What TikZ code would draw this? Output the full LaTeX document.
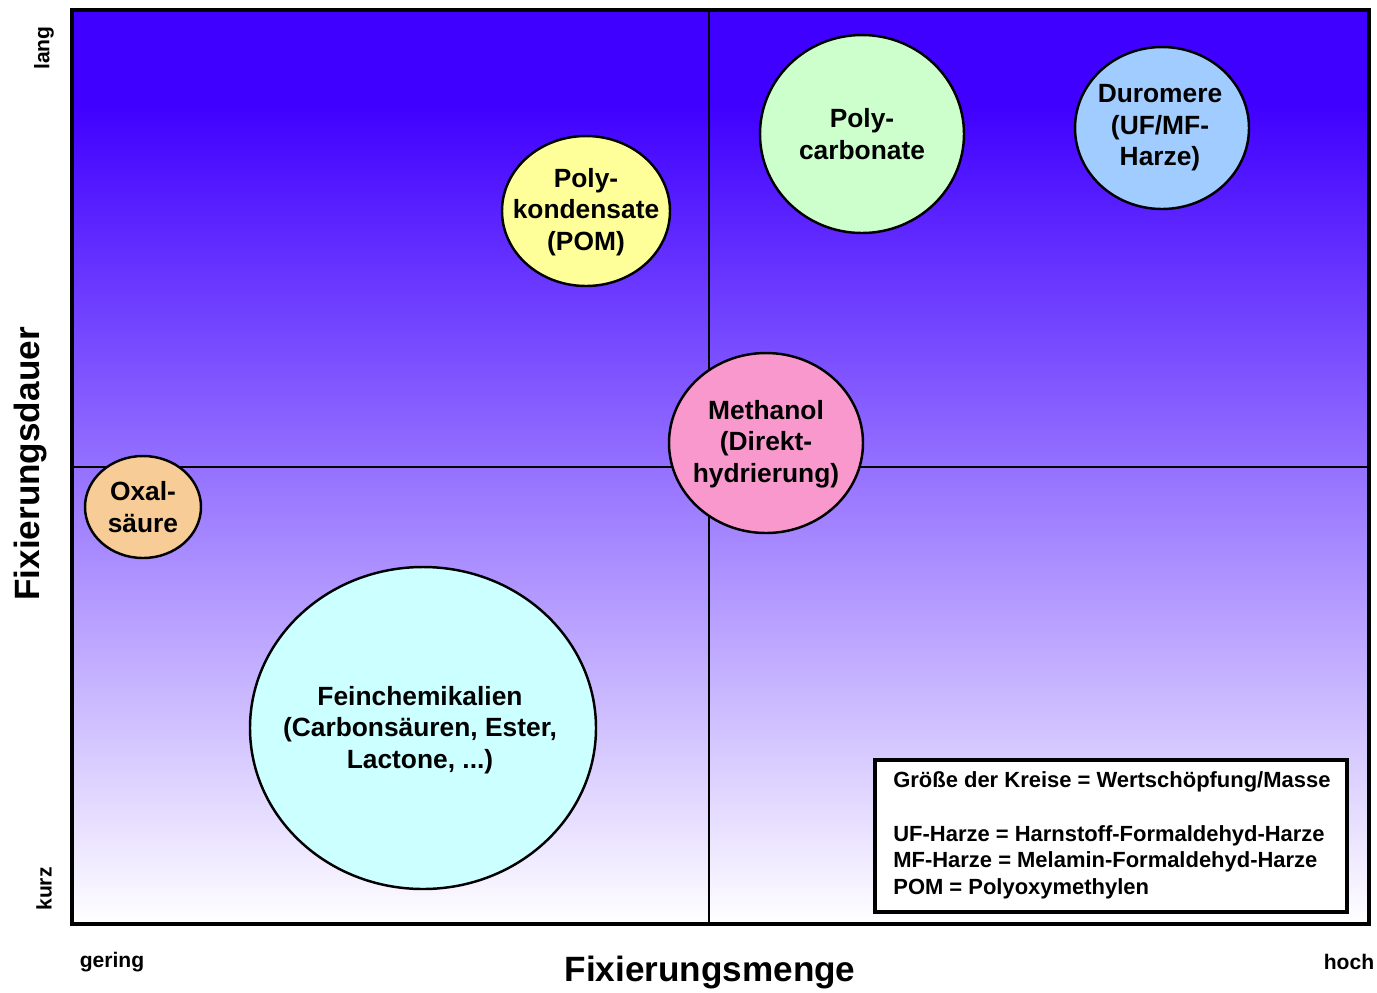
\documentclass[tikz,border=0pt]{standalone}
\usepackage{fontspec}
\setmainfont{Liberation Sans}
\usepackage{xcolor}
\usepackage{tikz}
\usetikzlibrary{shapes.geometric,positioning,calc}
\definecolor{topblue}{HTML}{4000FF}
\definecolor{midblue}{HTML}{B2ACFC}
\definecolor{oxalfill}{HTML}{F8CC96}
\definecolor{polyfill}{HTML}{FFFF99}
\definecolor{carbfill}{HTML}{CCFFCC}
\definecolor{durofill}{HTML}{A0CCFF}
\definecolor{methfill}{HTML}{F898CC}
\definecolor{feinfill}{HTML}{CCFFFF}
\tikzstyle{bubble} = [draw, line width=1.4pt]
\tikzstyle{bubbletext} = [inner sep=0pt, align=center, font=\fontsize{15}{18}\selectfont\bfseries]
\tikzstyle{axislabel} = [font=\fontsize{12}{14}\selectfont\bfseries]
\tikzstyle{axistitle} = [font=\fontsize{20}{24}\selectfont\bfseries]

\begin{document}
\begin{tikzpicture}[x=0.02cm, y=-0.02cm]
    \useasboundingbox (0,0) rectangle (1377,992);
    % background of the chart
    \fill[topblue] (72,10) rectangle (1369,105);
    \shade[top color=topblue, middle color=midblue, bottom color=white] (72,105) rectangle (1369,924);
    % quadrants
    \coordinate (top) at (709,10);
    \coordinate (bottom) at (709,924);
    \coordinate (left) at (72,467);
    \coordinate (right) at (1369,467);
    \draw[line width=1.2pt] (top) -- (bottom);
    \draw[line width=1.2pt] (left) -- (right);
    \draw[line width=2.8pt] (72,10) rectangle (1369,924);
    % bubbles
    \path[bubble, fill=oxalfill] (143,507) ellipse [x radius=58, y radius=51];
    \node[bubbletext] (oxal) at (143,507) {Oxal-\\säure};
    \path[bubble, fill=polyfill] (586,211) ellipse [x radius=84, y radius=75];
    \node[bubbletext] (pom) at (586,212) {Poly-\\kondensate\\(POM)};
    \path[bubble, fill=carbfill] (862,134) ellipse [x radius=102, y radius=99];
    \node[bubbletext] (carb) at (862,134) {Poly-\\carbonate};
    \path[bubble, fill=durofill] (1162,128) ellipse [x radius=87, y radius=81];
    \node[bubbletext] (duro) at (1160,128) {Duromere\\(UF/MF-\\Harze)};
    \path[bubble, fill=methfill] (766,443) ellipse [x radius=97, y radius=90];
    \node[bubbletext] (meth) at (766,444) {Methanol\\(Direkt-\\hydrierung)};
    \path[bubble, fill=feinfill] (423,728) ellipse [x radius=173, y radius=161];
    \node[bubbletext] (fein) at (420,730) {Feinchemikalien\\(Carbonsäuren, Ester,\\Lactone, ...)};
    % legend
    \draw[line width=2.2pt, fill=white] (875,760) rectangle (1347,912);
    \node[anchor=north west, align=left, inner sep=0pt, font=\fontsize{12.5}{15.3}\selectfont\bfseries] (legendtext) at (893,771) {Größe der Kreise = Wertschöpfung/Masse\\[15.3pt]UF-Harze = Harnstoff-Formaldehyd-Harze\\MF-Harze = Melamin-Formaldehyd-Harze\\POM = Polyoxymethylen};
    % axes
    \node[axislabel, rotate=90] (lang) at (44,48) {lang};
    \node[axislabel, rotate=90] (kurz) at (44,889) {kurz};
    \node[axislabel] (gering) at (112,962) {gering};
    \node[axislabel] (hoch) at (1349,962) {hoch};
    \node[axistitle] (xtitle) at (710,972) {Fixierungsmenge};
    \node[axistitle, rotate=90] (ytitle) at (30,464) {Fixierungsdauer};
\end{tikzpicture}
\end{document}
